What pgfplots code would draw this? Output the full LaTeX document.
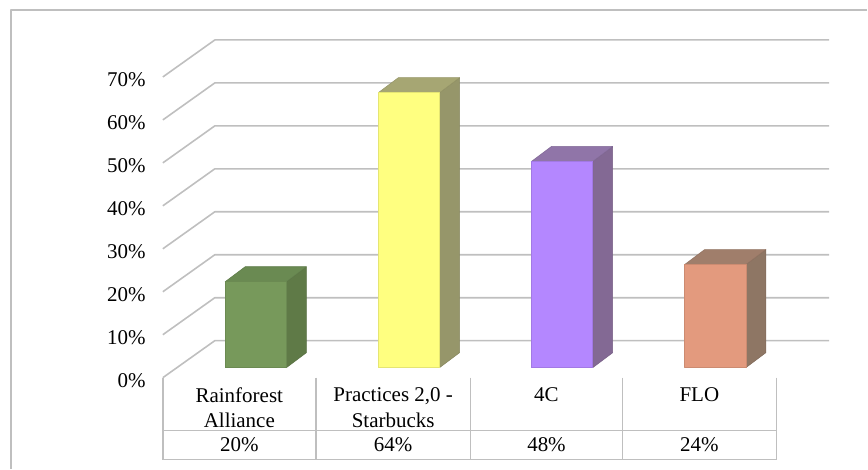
\documentclass[border=0pt]{standalone}
\usepackage{pgfplots}
\pgfplotsset{compat=1.18}
\usepackage{fontspec}
\setmainfont{Liberation Serif}
\definecolor{gridc}{HTML}{BFBFBF}
\definecolor{gF}{HTML}{77995B}\definecolor{gT}{HTML}{6A8A52}\definecolor{gS}{HTML}{5F7A47}
\definecolor{yF}{HTML}{FFFF80}\definecolor{yT}{HTML}{A6A673}\definecolor{yS}{HTML}{96966A}
\definecolor{pF}{HTML}{B487FF}\definecolor{pT}{HTML}{9075A8}\definecolor{pS}{HTML}{836994}
\definecolor{oF}{HTML}{E39A7E}\definecolor{oT}{HTML}{A07E6B}\definecolor{oS}{HTML}{8E7664}
\begin{document}
\begin{tikzpicture}
\begin{axis}[
  width=651pt, height=351.75pt, scale only axis,
  xmin=-1.670, xmax=3.992, ymin=-23.49, ymax=85.58,
  hide axis, clip=false,
  every axis plot/.append style={line join=round},
  grid line/.style={draw=gridc, line width=1.2pt},
]
% bounding
\addplot[draw=none] coordinates {(-1.670,-23.49) (3.992,85.58)};
% outer frame
\addplot[grid line] coordinates {(-1.598,-23.49) (-1.598,83.26) (3.992,83.26)};
% grid: front diagonal + back wall line
\addplot[grid line] coordinates {(-0.6067,-2.33) (-0.2675,6.28) (3.744,6.28)};
\addplot[grid line] coordinates {(-0.6067,7.67) (-0.2675,16.28) (3.744,16.28)};
\addplot[grid line] coordinates {(-0.6067,17.67) (-0.2675,26.28) (3.744,26.28)};
\addplot[grid line] coordinates {(-0.6067,27.67) (-0.2675,36.28) (3.744,36.28)};
\addplot[grid line] coordinates {(-0.6067,37.67) (-0.2675,46.28) (3.744,46.28)};
\addplot[grid line] coordinates {(-0.6067,47.67) (-0.2675,56.28) (3.744,56.28)};
\addplot[grid line] coordinates {(-0.6067,57.67) (-0.2675,66.28) (3.744,66.28)};
\addplot[grid line] coordinates {(-0.6067,67.67) (-0.2675,76.28) (3.744,76.28)};
% bars: Rainforest Alliance 20
\addplot[fill=gS, draw=gS!90!black, line width=0.4pt] coordinates {(0.2,0) (0.3305,3.49) (0.3305,23.49) (0.2,20)} -- cycle;
\addplot[fill=gT, draw=gT!90!black, line width=0.4pt] coordinates {(-0.2,20) (-0.0695,23.49) (0.3305,23.49) (0.2,20)} -- cycle;
\addplot[fill=gF, draw=gF!90!black, line width=0.4pt] coordinates {(-0.2,0) (0.2,0) (0.2,20) (-0.2,20)} -- cycle;
% Practices 2,0 - Starbucks 64
\addplot[fill=yS, draw=yS!90!black, line width=0.4pt] coordinates {(1.2,0) (1.3305,3.49) (1.3305,67.49) (1.2,64)} -- cycle;
\addplot[fill=yT, draw=yT!90!black, line width=0.4pt] coordinates {(0.8,64) (0.9305,67.49) (1.3305,67.49) (1.2,64)} -- cycle;
\addplot[fill=yF, draw=yF!90!black, line width=0.4pt] coordinates {(0.8,0) (1.2,0) (1.2,64) (0.8,64)} -- cycle;
% 4C 48
\addplot[fill=pS, draw=pS!90!black, line width=0.4pt] coordinates {(2.2,0) (2.3305,3.49) (2.3305,51.49) (2.2,48)} -- cycle;
\addplot[fill=pT, draw=pT!90!black, line width=0.4pt] coordinates {(1.8,48) (1.9305,51.49) (2.3305,51.49) (2.2,48)} -- cycle;
\addplot[fill=pF, draw=pF!90!black, line width=0.4pt] coordinates {(1.8,0) (2.2,0) (2.2,48) (1.8,48)} -- cycle;
% FLO 24
\addplot[fill=oS, draw=oS!90!black, line width=0.4pt] coordinates {(3.2,0) (3.3305,3.49) (3.3305,27.49) (3.2,24)} -- cycle;
\addplot[fill=oT, draw=oT!90!black, line width=0.4pt] coordinates {(2.8,24) (2.9305,27.49) (3.3305,27.49) (3.2,24)} -- cycle;
\addplot[fill=oF, draw=oF!90!black, line width=0.4pt] coordinates {(2.8,0) (3.2,0) (3.2,24) (2.8,24)} -- cycle;
% data table
\addplot[grid line] coordinates {(-0.6067,-2.33) (-0.6067,-21.40)};
\addplot[grid line] coordinates {(0.3914,-2.33) (0.3914,-21.40)};
\addplot[grid line] coordinates {(1.4025,-2.33) (1.4025,-21.40)};
\addplot[grid line] coordinates {(2.394,-2.33) (2.394,-21.40)};
\addplot[grid line] coordinates {(3.3986,-2.33) (3.3986,-21.40)};
\addplot[grid line] coordinates {(-0.6067,-14.65) (3.3986,-14.65)};
\addplot[grid line] coordinates {(-0.6067,-21.40) (3.3986,-21.40)};
% tick labels
\begin{scope}[every node/.style={font=\fontsize{15.75}{19}\selectfont, inner sep=0pt}]
\node[anchor=east] at (axis cs:-0.717,-3.0) {0\%};
\node[anchor=east] at (axis cs:-0.717,7.0) {10\%};
\node[anchor=east] at (axis cs:-0.717,17.0) {20\%};
\node[anchor=east] at (axis cs:-0.717,27.0) {30\%};
\node[anchor=east] at (axis cs:-0.717,37.0) {40\%};
\node[anchor=east] at (axis cs:-0.717,47.0) {50\%};
\node[anchor=east] at (axis cs:-0.717,57.0) {60\%};
\node[anchor=east] at (axis cs:-0.717,67.0) {70\%};
\node[anchor=north, align=center] at (axis cs:-0.1076,-4.65) {Rainforest\\Alliance};
\node[anchor=north, align=center] at (axis cs:0.897,-4.65) {Practices 2,0 -\\Starbucks};
\node[anchor=north, align=center] at (axis cs:1.898,-4.65) {4C};
\node[anchor=north, align=center] at (axis cs:2.896,-4.65) {FLO};
\node at (axis cs:-0.1076,-18.02) {20\%};
\node at (axis cs:0.897,-18.02) {64\%};
\node at (axis cs:1.898,-18.02) {48\%};
\node at (axis cs:2.896,-18.02) {24\%};
\end{scope}
\end{axis}
\end{tikzpicture}
\end{document}
